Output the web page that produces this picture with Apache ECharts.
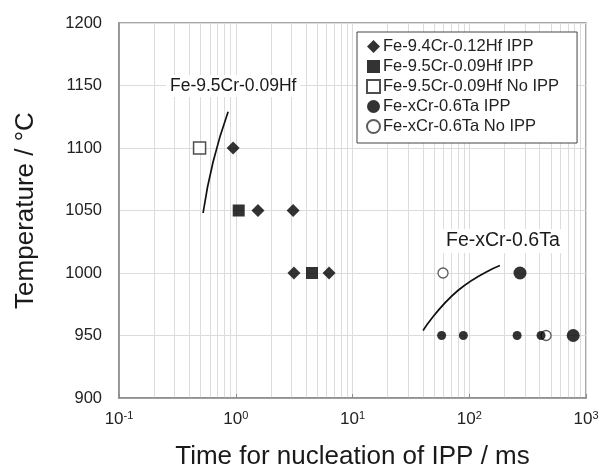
<!DOCTYPE html>
<html>
<head>
<meta charset="utf-8">
<script src="https://cdn.jsdelivr.net/npm/echarts@6/dist/echarts.min.js"></script>
<style>
html,body{margin:0;padding:0;background:#fff;}
#chart{width:605px;height:475px;}
</style>
</head>
<body>
<div id="chart"></div>
<script>
// ---- data ----
var hf94IPP = [[0.95, 1100], [1.55, 1050], [3.1, 1050], [3.15, 1000], [6.3, 1000]];
var hf95IPP = [[1.06, 1050], [4.5, 1000]];
var hf95NoIPP = [[0.49, 1100]];
var taIPPLarge = [[272, 1000], [777, 950]];
var taIPPSmall = [[58, 950], [89, 950], [257, 950], [412, 950]];
var taNoIPP = [[59.6, 1000], [455, 950]];
var hfCurve = [[0.525, 1048], [0.64, 1089], [0.86, 1129]];
var taCurve = [[40.2, 954], [80, 986], [183, 1006]];
var yTicks = [900, 950, 1000, 1050, 1100, 1150, 1200];
var xDecades = [0.1, 1, 10, 100, 1000];
var legendNames = ['Fe-9.4Cr-0.12Hf IPP', 'Fe-9.5Cr-0.09Hf IPP', 'Fe-9.5Cr-0.09Hf No IPP', 'Fe-xCr-0.6Ta IPP', 'Fe-xCr-0.6Ta No IPP'];

// minor vertical grid lines at 2..9 x 10^k
var minorX = [];
for (var d = 0; d < xDecades.length - 1; d++) {
  for (var m = 2; m <= 9; m++) minorX.push({xAxis: xDecades[d] * m});
}

var FONT = '"Liberation Sans", Arial, sans-serif';
var chart = echarts.init(document.getElementById('chart'));
var option = {
  backgroundColor: '#fff',
  animation: false,
  textStyle: {fontFamily: FONT},
  grid: {left: 119, right: 19, top: 23, bottom: 74, show: true, borderColor: '#8a8a8a', borderWidth: 1.5},
  legend: {
    data: legendNames,
    orient: 'vertical',
    left: 357, top: 32,
    padding: [6, 18, 8, 9],
    itemWidth: 13, itemHeight: 13, itemGap: 3,
    backgroundColor: '#fff',
    borderColor: '#444', borderWidth: 1,
    z: 10,
    textStyle: {fontFamily: FONT, fontSize: 16.5, color: '#222', padding: [0, 0, 0, -2]}
  },
  xAxis: {
    type: 'log', logBase: 10, min: 0.1, max: 1000,
    name: 'Time for nucleation of IPP / ms',
    nameLocation: 'middle', nameGap: 46,
    nameTextStyle: {fontFamily: FONT, fontSize: 26, color: '#1a1a1a'},
    axisLine: {show: true, onZero: false, lineStyle: {color: '#8a8a8a', width: 1.5}},
    axisTick: {show: true, inside: true, length: 4, lineStyle: {color: '#8a8a8a'}},
    splitLine: {show: true, lineStyle: {color: '#dcdcdc', width: 1}},
    minorTick: {show: false},
    axisLabel: {
      margin: 12,
      formatter: function (v) {
        var e = Math.round(Math.log10(v));
        return '{b|10}{s|' + e + '}';
      },
      rich: {
        b: {fontFamily: FONT, fontSize: 17, color: '#222'},
        s: {fontFamily: FONT, fontSize: 11, color: '#222', verticalAlign: 'top', padding: [0, 0, 8, 0]}
      }
    }
  },
  yAxis: {
    type: 'value', min: 900, max: 1200, interval: 50,
    name: 'Temperature / °C',
    nameLocation: 'middle', nameGap: 80,
    nameTextStyle: {fontFamily: FONT, fontSize: 26, color: '#1a1a1a'},
    axisLine: {show: true, lineStyle: {color: '#8a8a8a', width: 1.5}},
    axisTick: {show: false},
    splitLine: {show: true, lineStyle: {color: '#dcdcdc', width: 1}},
    axisLabel: {margin: 17, fontFamily: FONT, fontSize: 16.5, color: '#222',
      formatter: function (v) { return String(v); }}
  },
  series: [
    {
      name: 'gridMinor', type: 'line', data: [], silent: true, z: 0,
      markLine: {silent: true, symbol: 'none', label: {show: false}, z: 0,
        lineStyle: {color: '#dcdcdc', width: 1, type: 'solid'}, data: minorX, animation: false}
    },
    {
      name: 'hfCurve', type: 'line', data: hfCurve, smooth: true, showSymbol: false, symbol: 'none',
      lineStyle: {color: '#111', width: 1.7}, silent: true
    },
    {
      name: 'taCurve', type: 'line', data: taCurve, smooth: true, showSymbol: false, symbol: 'none',
      lineStyle: {color: '#111', width: 1.7}, silent: true
    },
    {
      name: legendNames[0], type: 'scatter', data: hf94IPP, symbol: 'diamond', symbolSize: 13,
      itemStyle: {color: '#000'}
    },
    {
      name: legendNames[1], type: 'scatter', data: hf95IPP, symbol: 'rect', symbolSize: 12,
      itemStyle: {color: '#000'}
    },
    {
      name: legendNames[2], type: 'scatter', data: hf95NoIPP, symbol: 'rect', symbolSize: 12,
      itemStyle: {color: '#fff', borderColor: '#222', borderWidth: 1.5}
    },
    {
      name: legendNames[3], type: 'scatter', data: taIPPLarge, symbol: 'circle', symbolSize: 13,
      itemStyle: {color: '#000'}
    },
    {
      name: legendNames[3], type: 'scatter', data: taIPPSmall, symbol: 'circle', symbolSize: 9,
      itemStyle: {color: '#000'}
    },
    {
      name: legendNames[4], type: 'scatter', data: taNoIPP, symbol: 'circle', symbolSize: 10,
      itemStyle: {color: '#fff', borderColor: '#333', borderWidth: 1.3}, z: 1
    }
  ],
  graphic: [
    {
      type: 'text', left: 166, top: 75, z: 100,
      style: {text: 'Fe-9.5Cr-0.09Hf', fontFamily: FONT, fontSize: 17.5, fill: '#1a1a1a',
        backgroundColor: '#fff', padding: [2, 4, 2, 4]}
    },
    {
      type: 'text', left: 442, top: 229, z: 100,
      style: {text: 'Fe-xCr-0.6Ta', fontFamily: FONT, fontSize: 19.5, fill: '#1a1a1a',
        backgroundColor: '#fff', padding: [2, 4, 2, 4]}
    }
  ]
};
chart.setOption(option);
</script>
</body>
</html>
